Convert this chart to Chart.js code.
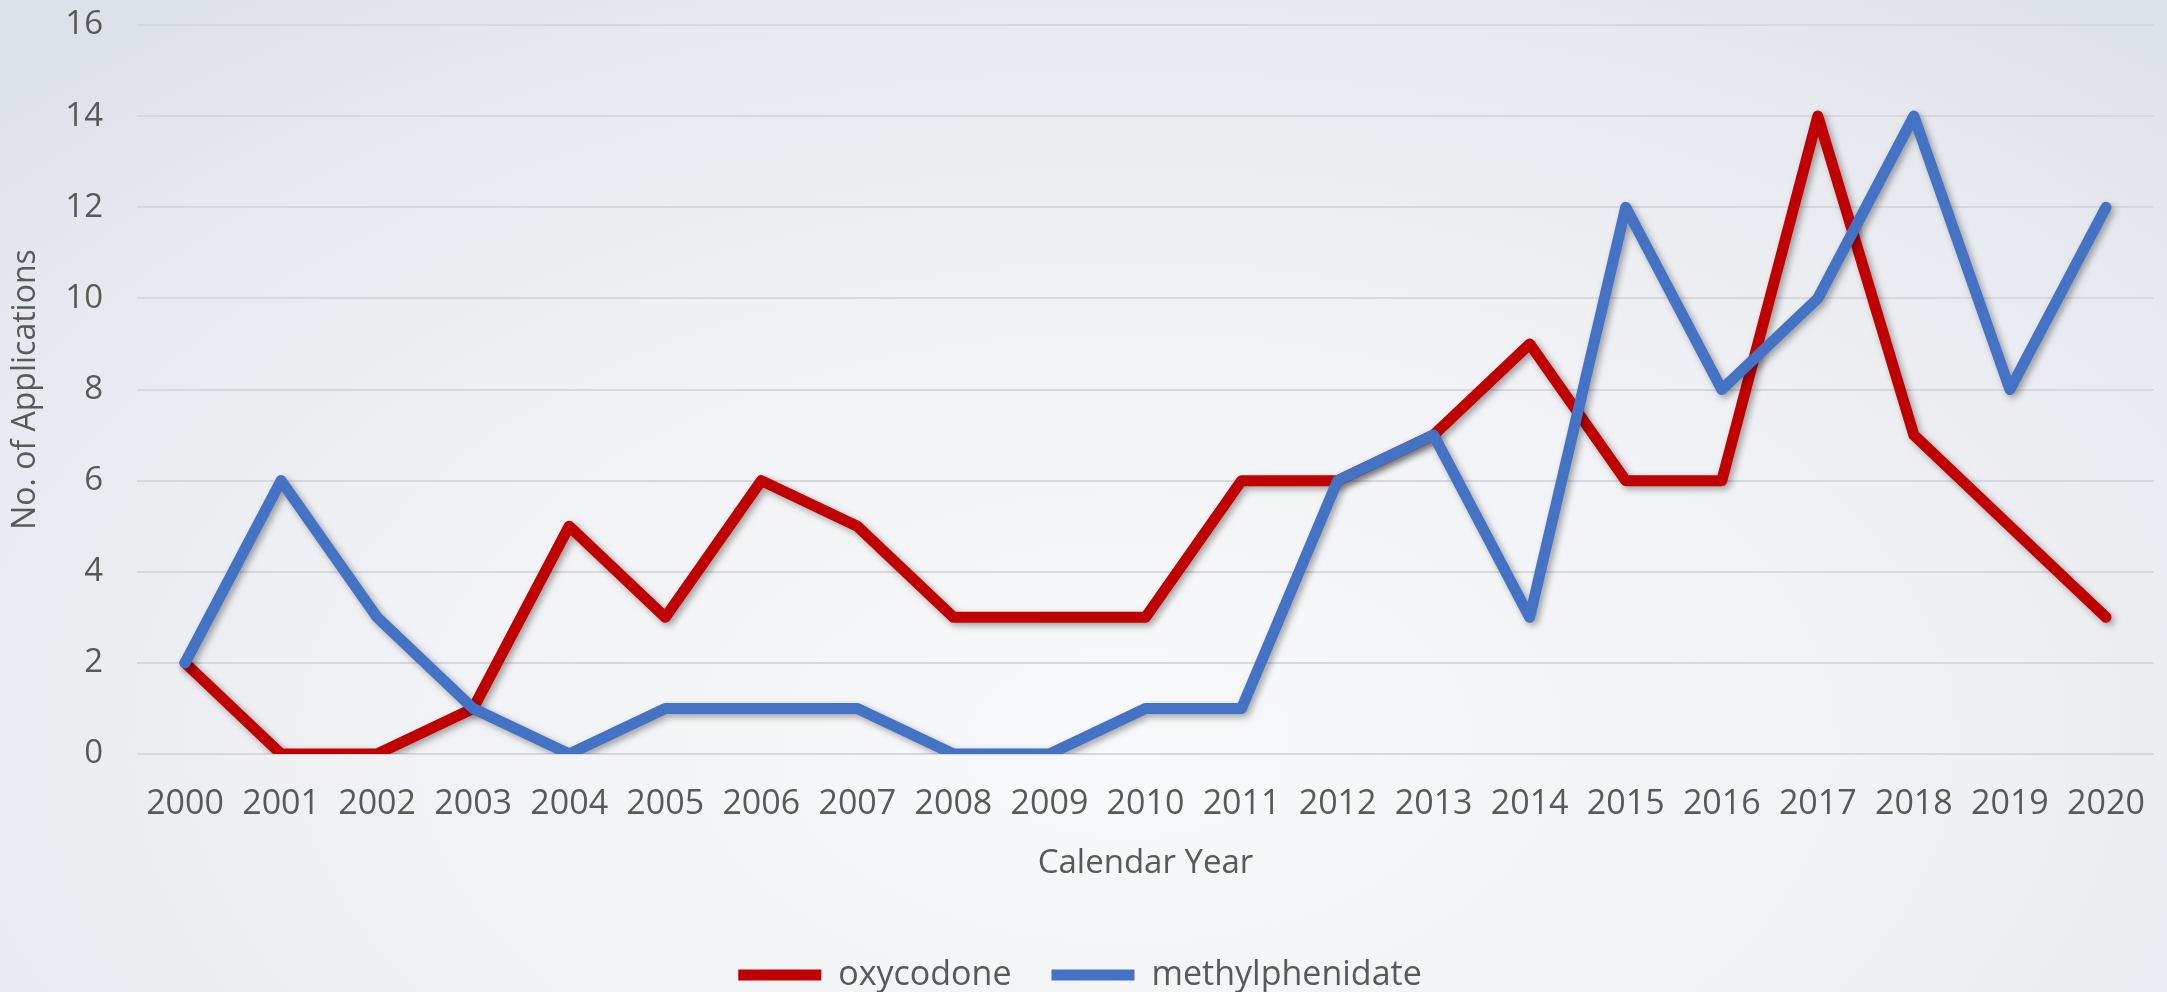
<!DOCTYPE html>
<html>
<head>
<meta charset="utf-8">
<script src="https://cdn.jsdelivr.net/npm/chart.js@4.4.1/dist/chart.umd.min.js"></script>
<style>
    html, body {
        margin: 0;
        padding: 0;
        width: 2167px;
        height: 992px;
        overflow: hidden;
    }
    body {
        background: radial-gradient(ellipse 75% 95% at 52% 75%, #f8f9fa 0%, #f1f2f5 45%, #e6e9ee 80%, #dde1e8 100%);
    }
    .chart-wrap {
        position: relative;
        width: 2167px;
        height: 992px;
    }
</style>
</head>
<body>
<div class="chart-wrap">
    <canvas id="appsChart"></canvas>
</div>
<script>
const years = ['2000', '2001', '2002', '2003', '2004', '2005', '2006', '2007', '2008', '2009', '2010',
               '2011', '2012', '2013', '2014', '2015', '2016', '2017', '2018', '2019', '2020'];
const oxycodone = [2, 0, 0, 1, 5, 3, 6, 5, 3, 3, 3, 6, 6, 7, 9, 6, 6, 14, 7, 5, 3];
const methylphenidate = [2, 6, 3, 1, 0, 1, 1, 1, 0, 0, 1, 1, 6, 7, 3, 12, 8, 10, 14, 8, 12];
const yTicks = [0, 2, 4, 6, 8, 10, 12, 14, 16];

const textColor = '#595959';
const fontFamily = '"Open Sans", "DejaVu Sans", sans-serif';

// soft drop shadow under the lines, like the office chart style
const lineShadow = {
    id: 'lineShadow',
    beforeDatasetsDraw(chart) {
        const ctx = chart.ctx;
        ctx.save();
        ctx.shadowColor = 'rgba(0, 0, 0, 0.35)';
        ctx.shadowBlur = 7;
        ctx.shadowOffsetX = 3;
        ctx.shadowOffsetY = 3;
    },
    afterDatasetsDraw(chart) {
        chart.ctx.restore();
    }
};

document.addEventListener('DOMContentLoaded', function() {
    const canvas = document.getElementById('appsChart');
    if (!canvas) {
        console.error('chart canvas not found');
        return;
    }

    new Chart(canvas, {
        type: 'line',
        data: {
            labels: years,
            datasets: [{
                label: 'oxycodone',
                data: oxycodone,
                borderColor: '#C00000',
                backgroundColor: '#C00000',
                borderWidth: 11,
                borderCapStyle: 'round',
                borderJoinStyle: 'round',
                tension: 0,
                pointRadius: 0,
                fill: false,
                order: 1
            }, {
                label: 'methylphenidate',
                data: methylphenidate,
                borderColor: '#4472C4',
                backgroundColor: '#4472C4',
                borderWidth: 11,
                borderCapStyle: 'round',
                borderJoinStyle: 'round',
                tension: 0,
                pointRadius: 0,
                fill: false,
                order: 0
            }]
        },
        options: {
            responsive: true,
            maintainAspectRatio: false,
            animation: false,
            devicePixelRatio: 1,
            layout: {
                padding: { top: 25, right: 7, left: 0, bottom: -10 }
            },
            plugins: {
                legend: {
                    position: 'bottom',
                    labels: {
                        usePointStyle: true,
                        pointStyle: 'line',
                        pointStyleWidth: 83,
                        padding: 40,
                        color: textColor,
                        font: { family: fontFamily, size: 34 },
                        sort: function(a, b) {
                            return a.datasetIndex - b.datasetIndex;
                        }
                    }
                },
                tooltip: { enabled: false }
            },
            scales: {
                y: {
                    min: 0,
                    max: 16,
                    afterBuildTicks: function(scale) {
                        scale.ticks = yTicks.map(v => ({ value: v }));
                    },
                    afterFit: function(scale) {
                        scale.width = 137;
                        scale.paddingTop = 0;
                        scale.paddingBottom = 0;
                    },
                    grid: {
                        color: '#d6d8dc',
                        lineWidth: 2,
                        drawTicks: false
                    },
                    border: { display: false },
                    ticks: {
                        padding: 34,
                        color: textColor,
                        font: { family: fontFamily, size: 33 }
                    },
                    title: {
                        display: true,
                        text: 'No. of Applications',
                        color: textColor,
                        padding: { top: 7, bottom: 0 },
                        font: { family: fontFamily, size: 32 }
                    }
                },
                x: {
                    offset: true,
                    afterFit: function(scale) {
                        scale.height = 164;
                    },
                    grid: { display: false, offset: true },
                    border: { display: false },
                    ticks: {
                        padding: 22,
                        maxRotation: 0,
                        autoSkip: false,
                        color: textColor,
                        font: { family: fontFamily, size: 34 }
                    },
                    title: {
                        display: true,
                        text: 'Calendar Year',
                        color: textColor,
                        padding: { top: 0, bottom: 35 },
                        font: { family: fontFamily, size: 33 }
                    }
                }
            }
        },
        plugins: [lineShadow]
    });
});
</script>
</body>
</html>
